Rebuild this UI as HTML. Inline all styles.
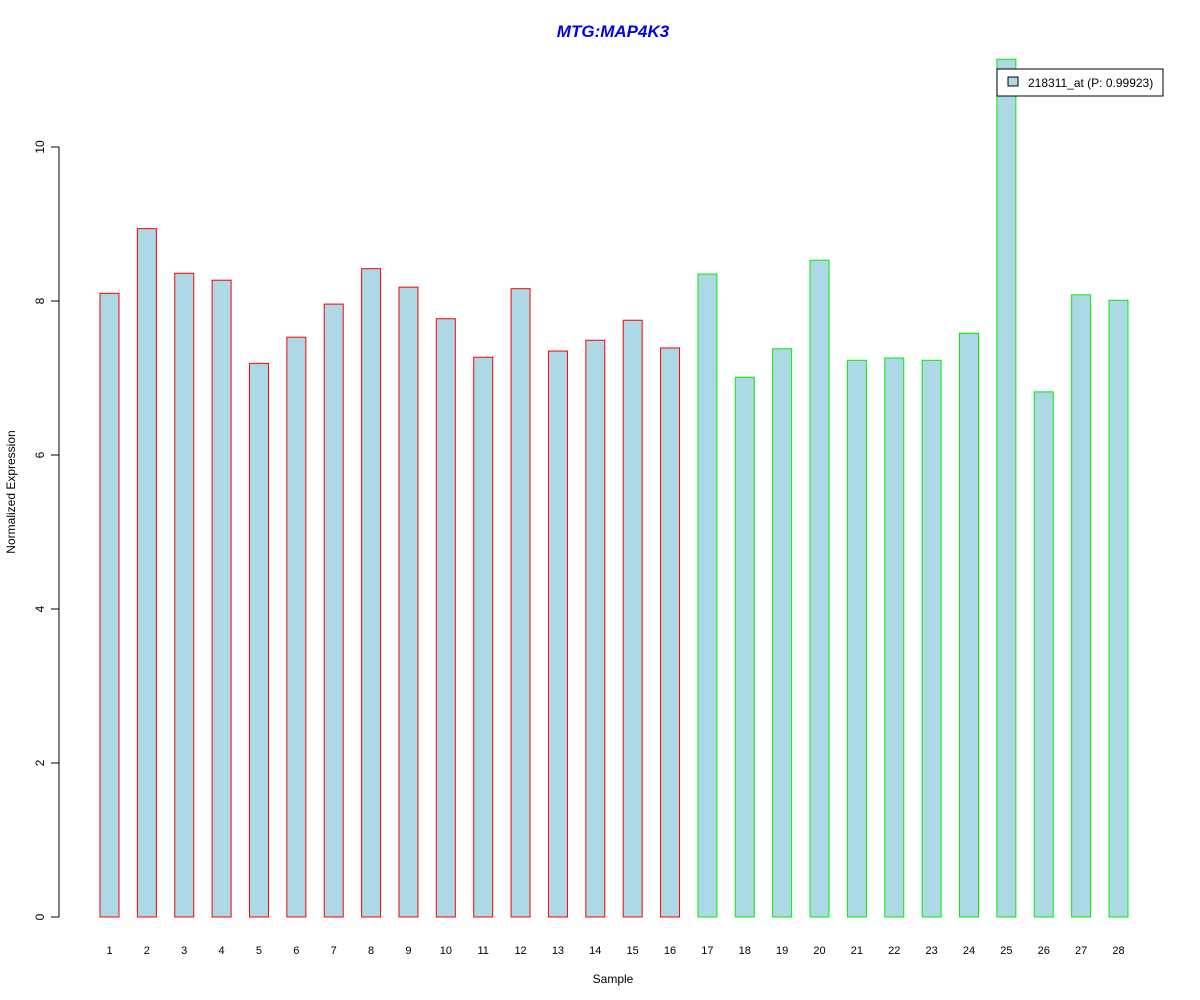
<!DOCTYPE html>
<html><head><meta charset="utf-8"><style>
html,body{margin:0;padding:0;background:#fff;}
svg{display:block;font-family:"Liberation Sans",Arial,sans-serif;}
</style></head><body>
<svg id="chart" width="1200" height="1000" viewBox="0 0 1200 1000">
<text x="613" y="37" text-anchor="middle" font-size="17" font-weight="bold" font-style="italic" fill="#0000ee">MTG:MAP4K3</text>
<text x="613" y="983" text-anchor="middle" font-size="12" fill="#000">Sample</text>
<text transform="translate(15,492) rotate(-90)" text-anchor="middle" font-size="12" fill="#000">Normalized Expression</text>
<g id="yaxis"></g>
<g id="bars"></g>
<g id="xlabels"></g>
<g>
<rect x="997" y="69" width="166" height="27" fill="#fff" stroke="#000" stroke-width="1"/>
<rect x="1008" y="77" width="10" height="9" fill="#add8e6" stroke="#000" stroke-width="1"/>
<text x="1028" y="87" font-size="12" fill="#000">218311_at (P: 0.99923)</text>
</g>
</svg>
<script>
const categories = ["1","2","3","4","5","6","7","8","9","10","11","12","13","14","15","16","17","18","19","20","21","22","23","24","25","26","27","28"];
const values = [8.10,8.94,8.36,8.27,7.19,7.53,7.96,8.42,8.18,7.77,7.27,8.16,7.35,7.49,7.75,7.39,8.35,7.01,7.38,8.53,7.23,7.26,7.23,7.58,11.14,6.82,8.08,8.01];
const groups = ["r","r","r","r","r","r","r","r","r","r","r","r","r","r","r","r","g","g","g","g","g","g","g","g","g","g","g","g"];
const yTicks = [0,2,4,6,8,10];

const NS="http://www.w3.org/2000/svg";
const y = v => 917 - v*77;
const xc = i => 109.5 + i*37.37;
const bw = 19;
function mk(tag, attrs){const e=document.createElementNS(NS,tag);for(const k in attrs)e.setAttribute(k,attrs[k]);return e;}

const ya=document.getElementById('yaxis');
const axl=mk('line',{x1:59,x2:59,y1:y(0),y2:y(10),stroke:'#000'});


ya.appendChild(axl);
yTicks.forEach(t=>{
  const l=mk('line',{x1:51,x2:59,y1:y(t),y2:y(t),stroke:'#000'});
  
  
  ya.appendChild(l);
  const tx=mk('text',{transform:`translate(44,${y(t)}) rotate(-90)`,'text-anchor':'middle','font-size':12});
  tx.textContent=String(t);
  
  
  ya.appendChild(tx);
});

const bg=document.getElementById('bars'), xl=document.getElementById('xlabels');
values.forEach((v,i)=>{
  const r=mk('rect',{x:xc(i)-bw/2,y:y(v),width:bw,height:y(0)-y(v),fill:'#add8e6',stroke:groups[i]==='r'?'#ff0000':'#00ee00','stroke-width':1});
  
  
  bg.appendChild(r);
  const t=mk('text',{x:xc(i),y:954,'text-anchor':'middle','font-size':11});
  t.textContent=categories[i];
  
  
  xl.appendChild(t);
});
</script>
</body></html>
